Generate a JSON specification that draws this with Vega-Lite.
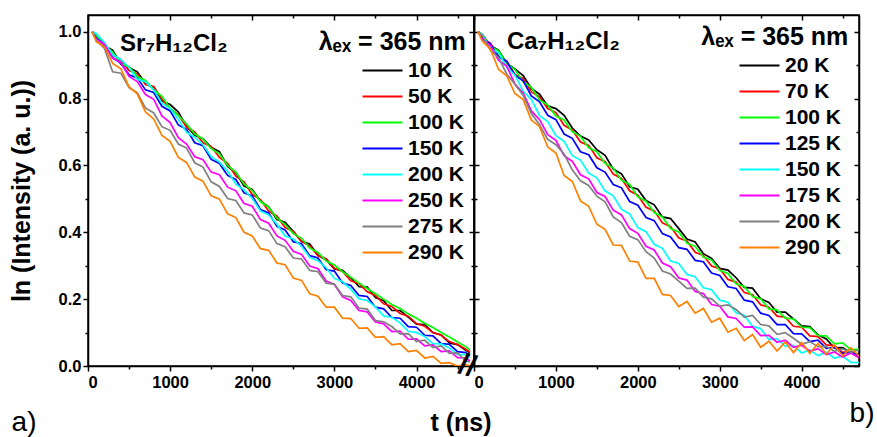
{
"$schema":"https://vega.github.io/schema/vega-lite/v6.json",
"autosize":{"type":"pad"},
"padding":{"left":8,"top":13,"right":4,"bottom":2},
"background":"white",
"bounds":"flush",
"spacing":0,
"config":{
"font":"Liberation Sans",
"view":{"stroke":"black","strokeWidth":1.5},
"axis":{"domainColor":"black","domainWidth":1.5,"tickColor":"black","tickWidth":1.5,"grid":false,"labelFont":"Liberation Sans","labelFontWeight":"bold","labelFontSize":16.5,"labelColor":"black","titleColor":"black","titleFont":"Liberation Sans","titleFontWeight":"bold","titleFontSize":25},
"legend":{"labelFont":"Liberation Sans","labelFontWeight":"bold","labelFontSize":21,"labelColor":"black"}
},
"datasets":{"d":[
{"p":"S","k":"10 K","t":50,"v":1.0},{"p":"S","k":"10 K","t":100,"v":0.993},{"p":"S","k":"10 K","t":200,"v":0.957},{"p":"S","k":"10 K","t":300,"v":0.945},{"p":"S","k":"10 K","t":400,"v":0.903},{"p":"S","k":"10 K","t":500,"v":0.893},{"p":"S","k":"10 K","t":600,"v":0.88},{"p":"S","k":"10 K","t":700,"v":0.845},{"p":"S","k":"10 K","t":800,"v":0.832},{"p":"S","k":"10 K","t":900,"v":0.793},{"p":"S","k":"10 K","t":1000,"v":0.782},{"p":"S","k":"10 K","t":1100,"v":0.76},{"p":"S","k":"10 K","t":1200,"v":0.717},{"p":"S","k":"10 K","t":1300,"v":0.69},{"p":"S","k":"10 K","t":1400,"v":0.68},{"p":"S","k":"10 K","t":1500,"v":0.654},{"p":"S","k":"10 K","t":1600,"v":0.641},{"p":"S","k":"10 K","t":1700,"v":0.597},{"p":"S","k":"10 K","t":1800,"v":0.579},{"p":"S","k":"10 K","t":1900,"v":0.538},{"p":"S","k":"10 K","t":2000,"v":0.528},{"p":"S","k":"10 K","t":2100,"v":0.493},{"p":"S","k":"10 K","t":2200,"v":0.476},{"p":"S","k":"10 K","t":2300,"v":0.438},{"p":"S","k":"10 K","t":2400,"v":0.43},{"p":"S","k":"10 K","t":2500,"v":0.402},{"p":"S","k":"10 K","t":2600,"v":0.373},{"p":"S","k":"10 K","t":2700,"v":0.365},{"p":"S","k":"10 K","t":2800,"v":0.331},{"p":"S","k":"10 K","t":2900,"v":0.318},{"p":"S","k":"10 K","t":3000,"v":0.29},{"p":"S","k":"10 K","t":3100,"v":0.286},{"p":"S","k":"10 K","t":3200,"v":0.264},{"p":"S","k":"10 K","t":3300,"v":0.237},{"p":"S","k":"10 K","t":3400,"v":0.236},{"p":"S","k":"10 K","t":3500,"v":0.205},{"p":"S","k":"10 K","t":3600,"v":0.195},{"p":"S","k":"10 K","t":3700,"v":0.166},{"p":"S","k":"10 K","t":3800,"v":0.166},{"p":"S","k":"10 K","t":3900,"v":0.146},{"p":"S","k":"10 K","t":4000,"v":0.125},{"p":"S","k":"10 K","t":4100,"v":0.124},{"p":"S","k":"10 K","t":4200,"v":0.1},{"p":"S","k":"10 K","t":4300,"v":0.093},{"p":"S","k":"10 K","t":4400,"v":0.069},{"p":"S","k":"10 K","t":4500,"v":0.064},{"p":"S","k":"10 K","t":4600,"v":0.047},{"p":"S","k":"10 K","t":4650,"v":0.04},
{"p":"S","k":"50 K","t":50,"v":1.0},{"p":"S","k":"50 K","t":100,"v":0.982},{"p":"S","k":"50 K","t":200,"v":0.965},{"p":"S","k":"50 K","t":300,"v":0.93},{"p":"S","k":"50 K","t":400,"v":0.915},{"p":"S","k":"50 K","t":500,"v":0.884},{"p":"S","k":"50 K","t":600,"v":0.874},{"p":"S","k":"50 K","t":700,"v":0.842},{"p":"S","k":"50 K","t":800,"v":0.836},{"p":"S","k":"50 K","t":900,"v":0.798},{"p":"S","k":"50 K","t":1000,"v":0.77},{"p":"S","k":"50 K","t":1100,"v":0.752},{"p":"S","k":"50 K","t":1200,"v":0.714},{"p":"S","k":"50 K","t":1300,"v":0.7},{"p":"S","k":"50 K","t":1400,"v":0.668},{"p":"S","k":"50 K","t":1500,"v":0.657},{"p":"S","k":"50 K","t":1600,"v":0.624},{"p":"S","k":"50 K","t":1700,"v":0.606},{"p":"S","k":"50 K","t":1800,"v":0.568},{"p":"S","k":"50 K","t":1900,"v":0.551},{"p":"S","k":"50 K","t":2000,"v":0.513},{"p":"S","k":"50 K","t":2100,"v":0.498},{"p":"S","k":"50 K","t":2200,"v":0.463},{"p":"S","k":"50 K","t":2300,"v":0.449},{"p":"S","k":"50 K","t":2400,"v":0.414},{"p":"S","k":"50 K","t":2500,"v":0.403},{"p":"S","k":"50 K","t":2600,"v":0.372},{"p":"S","k":"50 K","t":2700,"v":0.36},{"p":"S","k":"50 K","t":2800,"v":0.33},{"p":"S","k":"50 K","t":2900,"v":0.321},{"p":"S","k":"50 K","t":3000,"v":0.292},{"p":"S","k":"50 K","t":3100,"v":0.283},{"p":"S","k":"50 K","t":3200,"v":0.255},{"p":"S","k":"50 K","t":3300,"v":0.246},{"p":"S","k":"50 K","t":3400,"v":0.222},{"p":"S","k":"50 K","t":3500,"v":0.211},{"p":"S","k":"50 K","t":3600,"v":0.186},{"p":"S","k":"50 K","t":3700,"v":0.178},{"p":"S","k":"50 K","t":3800,"v":0.157},{"p":"S","k":"50 K","t":3900,"v":0.149},{"p":"S","k":"50 K","t":4000,"v":0.127},{"p":"S","k":"50 K","t":4100,"v":0.119},{"p":"S","k":"50 K","t":4200,"v":0.1},{"p":"S","k":"50 K","t":4300,"v":0.092},{"p":"S","k":"50 K","t":4400,"v":0.073},{"p":"S","k":"50 K","t":4500,"v":0.064},{"p":"S","k":"50 K","t":4600,"v":0.05},{"p":"S","k":"50 K","t":4650,"v":0.042},
{"p":"S","k":"100 K","t":50,"v":1.0},{"p":"S","k":"100 K","t":100,"v":0.99},{"p":"S","k":"100 K","t":200,"v":0.958},{"p":"S","k":"100 K","t":300,"v":0.94},{"p":"S","k":"100 K","t":400,"v":0.905},{"p":"S","k":"100 K","t":500,"v":0.895},{"p":"S","k":"100 K","t":600,"v":0.866},{"p":"S","k":"100 K","t":700,"v":0.854},{"p":"S","k":"100 K","t":800,"v":0.827},{"p":"S","k":"100 K","t":900,"v":0.807},{"p":"S","k":"100 K","t":1000,"v":0.771},{"p":"S","k":"100 K","t":1100,"v":0.75},{"p":"S","k":"100 K","t":1200,"v":0.724},{"p":"S","k":"100 K","t":1300,"v":0.694},{"p":"S","k":"100 K","t":1400,"v":0.679},{"p":"S","k":"100 K","t":1500,"v":0.65},{"p":"S","k":"100 K","t":1600,"v":0.635},{"p":"S","k":"100 K","t":1700,"v":0.6},{"p":"S","k":"100 K","t":1800,"v":0.58},{"p":"S","k":"100 K","t":1900,"v":0.544},{"p":"S","k":"100 K","t":2000,"v":0.525},{"p":"S","k":"100 K","t":2100,"v":0.492},{"p":"S","k":"100 K","t":2200,"v":0.475},{"p":"S","k":"100 K","t":2300,"v":0.442},{"p":"S","k":"100 K","t":2400,"v":0.424},{"p":"S","k":"100 K","t":2500,"v":0.396},{"p":"S","k":"100 K","t":2600,"v":0.382},{"p":"S","k":"100 K","t":2700,"v":0.353},{"p":"S","k":"100 K","t":2800,"v":0.34},{"p":"S","k":"100 K","t":2900,"v":0.314},{"p":"S","k":"100 K","t":3000,"v":0.302},{"p":"S","k":"100 K","t":3100,"v":0.282},{"p":"S","k":"100 K","t":3200,"v":0.266},{"p":"S","k":"100 K","t":3300,"v":0.248},{"p":"S","k":"100 K","t":3400,"v":0.232},{"p":"S","k":"100 K","t":3500,"v":0.216},{"p":"S","k":"100 K","t":3600,"v":0.2},{"p":"S","k":"100 K","t":3700,"v":0.184},{"p":"S","k":"100 K","t":3800,"v":0.172},{"p":"S","k":"100 K","t":3900,"v":0.156},{"p":"S","k":"100 K","t":4000,"v":0.143},{"p":"S","k":"100 K","t":4100,"v":0.128},{"p":"S","k":"100 K","t":4200,"v":0.115},{"p":"S","k":"100 K","t":4300,"v":0.1},{"p":"S","k":"100 K","t":4400,"v":0.087},{"p":"S","k":"100 K","t":4500,"v":0.072},{"p":"S","k":"100 K","t":4600,"v":0.058},{"p":"S","k":"100 K","t":4650,"v":0.048},
{"p":"S","k":"150 K","t":50,"v":1.0},{"p":"S","k":"150 K","t":100,"v":0.981},{"p":"S","k":"150 K","t":200,"v":0.962},{"p":"S","k":"150 K","t":300,"v":0.922},{"p":"S","k":"150 K","t":400,"v":0.906},{"p":"S","k":"150 K","t":500,"v":0.871},{"p":"S","k":"150 K","t":600,"v":0.862},{"p":"S","k":"150 K","t":700,"v":0.826},{"p":"S","k":"150 K","t":800,"v":0.818},{"p":"S","k":"150 K","t":900,"v":0.777},{"p":"S","k":"150 K","t":1000,"v":0.763},{"p":"S","k":"150 K","t":1100,"v":0.721},{"p":"S","k":"150 K","t":1200,"v":0.708},{"p":"S","k":"150 K","t":1300,"v":0.668},{"p":"S","k":"150 K","t":1400,"v":0.659},{"p":"S","k":"150 K","t":1500,"v":0.618},{"p":"S","k":"150 K","t":1600,"v":0.606},{"p":"S","k":"150 K","t":1700,"v":0.57},{"p":"S","k":"150 K","t":1800,"v":0.558},{"p":"S","k":"150 K","t":1900,"v":0.518},{"p":"S","k":"150 K","t":2000,"v":0.509},{"p":"S","k":"150 K","t":2100,"v":0.468},{"p":"S","k":"150 K","t":2200,"v":0.458},{"p":"S","k":"150 K","t":2300,"v":0.418},{"p":"S","k":"150 K","t":2400,"v":0.407},{"p":"S","k":"150 K","t":2500,"v":0.372},{"p":"S","k":"150 K","t":2600,"v":0.366},{"p":"S","k":"150 K","t":2700,"v":0.33},{"p":"S","k":"150 K","t":2800,"v":0.323},{"p":"S","k":"150 K","t":2900,"v":0.288},{"p":"S","k":"150 K","t":3000,"v":0.284},{"p":"S","k":"150 K","t":3100,"v":0.248},{"p":"S","k":"150 K","t":3200,"v":0.241},{"p":"S","k":"150 K","t":3300,"v":0.211},{"p":"S","k":"150 K","t":3400,"v":0.208},{"p":"S","k":"150 K","t":3500,"v":0.176},{"p":"S","k":"150 K","t":3600,"v":0.171},{"p":"S","k":"150 K","t":3700,"v":0.145},{"p":"S","k":"150 K","t":3800,"v":0.143},{"p":"S","k":"150 K","t":3900,"v":0.118},{"p":"S","k":"150 K","t":4000,"v":0.116},{"p":"S","k":"150 K","t":4100,"v":0.092},{"p":"S","k":"150 K","t":4200,"v":0.09},{"p":"S","k":"150 K","t":4300,"v":0.067},{"p":"S","k":"150 K","t":4400,"v":0.065},{"p":"S","k":"150 K","t":4500,"v":0.043},{"p":"S","k":"150 K","t":4600,"v":0.04},{"p":"S","k":"150 K","t":4650,"v":0.03},
{"p":"S","k":"200 K","t":50,"v":1.0},{"p":"S","k":"200 K","t":100,"v":0.995},{"p":"S","k":"200 K","t":200,"v":0.968},{"p":"S","k":"200 K","t":300,"v":0.931},{"p":"S","k":"200 K","t":400,"v":0.917},{"p":"S","k":"200 K","t":500,"v":0.893},{"p":"S","k":"200 K","t":600,"v":0.858},{"p":"S","k":"200 K","t":700,"v":0.85},{"p":"S","k":"200 K","t":800,"v":0.826},{"p":"S","k":"200 K","t":900,"v":0.786},{"p":"S","k":"200 K","t":1000,"v":0.77},{"p":"S","k":"200 K","t":1100,"v":0.738},{"p":"S","k":"200 K","t":1200,"v":0.699},{"p":"S","k":"200 K","t":1300,"v":0.684},{"p":"S","k":"200 K","t":1400,"v":0.662},{"p":"S","k":"200 K","t":1500,"v":0.626},{"p":"S","k":"200 K","t":1600,"v":0.61},{"p":"S","k":"200 K","t":1700,"v":0.583},{"p":"S","k":"200 K","t":1800,"v":0.544},{"p":"S","k":"200 K","t":1900,"v":0.527},{"p":"S","k":"200 K","t":2000,"v":0.501},{"p":"S","k":"200 K","t":2100,"v":0.464},{"p":"S","k":"200 K","t":2200,"v":0.452},{"p":"S","k":"200 K","t":2300,"v":0.424},{"p":"S","k":"200 K","t":2400,"v":0.389},{"p":"S","k":"200 K","t":2500,"v":0.38},{"p":"S","k":"200 K","t":2600,"v":0.358},{"p":"S","k":"200 K","t":2700,"v":0.325},{"p":"S","k":"200 K","t":2800,"v":0.315},{"p":"S","k":"200 K","t":2900,"v":0.294},{"p":"S","k":"200 K","t":3000,"v":0.262},{"p":"S","k":"200 K","t":3100,"v":0.252},{"p":"S","k":"200 K","t":3200,"v":0.23},{"p":"S","k":"200 K","t":3300,"v":0.201},{"p":"S","k":"200 K","t":3400,"v":0.196},{"p":"S","k":"200 K","t":3500,"v":0.177},{"p":"S","k":"200 K","t":3600,"v":0.15},{"p":"S","k":"200 K","t":3700,"v":0.146},{"p":"S","k":"200 K","t":3800,"v":0.129},{"p":"S","k":"200 K","t":3900,"v":0.104},{"p":"S","k":"200 K","t":4000,"v":0.1},{"p":"S","k":"200 K","t":4100,"v":0.088},{"p":"S","k":"200 K","t":4200,"v":0.067},{"p":"S","k":"200 K","t":4300,"v":0.066},{"p":"S","k":"200 K","t":4400,"v":0.054},{"p":"S","k":"200 K","t":4500,"v":0.035},{"p":"S","k":"200 K","t":4600,"v":0.034},{"p":"S","k":"200 K","t":4650,"v":0.025},
{"p":"S","k":"250 K","t":50,"v":1.0},{"p":"S","k":"250 K","t":100,"v":0.978},{"p":"S","k":"250 K","t":200,"v":0.962},{"p":"S","k":"250 K","t":300,"v":0.921},{"p":"S","k":"250 K","t":400,"v":0.908},{"p":"S","k":"250 K","t":500,"v":0.866},{"p":"S","k":"250 K","t":600,"v":0.851},{"p":"S","k":"250 K","t":700,"v":0.812},{"p":"S","k":"250 K","t":800,"v":0.798},{"p":"S","k":"250 K","t":900,"v":0.748},{"p":"S","k":"250 K","t":1000,"v":0.728},{"p":"S","k":"250 K","t":1100,"v":0.683},{"p":"S","k":"250 K","t":1200,"v":0.664},{"p":"S","k":"250 K","t":1300,"v":0.626},{"p":"S","k":"250 K","t":1400,"v":0.617},{"p":"S","k":"250 K","t":1500,"v":0.58},{"p":"S","k":"250 K","t":1600,"v":0.572},{"p":"S","k":"250 K","t":1700,"v":0.535},{"p":"S","k":"250 K","t":1800,"v":0.524},{"p":"S","k":"250 K","t":1900,"v":0.486},{"p":"S","k":"250 K","t":2000,"v":0.478},{"p":"S","k":"250 K","t":2100,"v":0.438},{"p":"S","k":"250 K","t":2200,"v":0.427},{"p":"S","k":"250 K","t":2300,"v":0.389},{"p":"S","k":"250 K","t":2400,"v":0.376},{"p":"S","k":"250 K","t":2500,"v":0.343},{"p":"S","k":"250 K","t":2600,"v":0.334},{"p":"S","k":"250 K","t":2700,"v":0.299},{"p":"S","k":"250 K","t":2800,"v":0.291},{"p":"S","k":"250 K","t":2900,"v":0.254},{"p":"S","k":"250 K","t":3000,"v":0.244},{"p":"S","k":"250 K","t":3100,"v":0.207},{"p":"S","k":"250 K","t":3200,"v":0.196},{"p":"S","k":"250 K","t":3300,"v":0.166},{"p":"S","k":"250 K","t":3400,"v":0.162},{"p":"S","k":"250 K","t":3500,"v":0.132},{"p":"S","k":"250 K","t":3600,"v":0.126},{"p":"S","k":"250 K","t":3700,"v":0.103},{"p":"S","k":"250 K","t":3800,"v":0.104},{"p":"S","k":"250 K","t":3900,"v":0.08},{"p":"S","k":"250 K","t":4000,"v":0.081},{"p":"S","k":"250 K","t":4100,"v":0.06},{"p":"S","k":"250 K","t":4200,"v":0.063},{"p":"S","k":"250 K","t":4300,"v":0.043},{"p":"S","k":"250 K","t":4400,"v":0.045},{"p":"S","k":"250 K","t":4500,"v":0.025},{"p":"S","k":"250 K","t":4600,"v":0.024},{"p":"S","k":"250 K","t":4650,"v":0.015},
{"p":"S","k":"275 K","t":50,"v":1.0},{"p":"S","k":"275 K","t":100,"v":0.975},{"p":"S","k":"275 K","t":200,"v":0.95},{"p":"S","k":"275 K","t":300,"v":0.88},{"p":"S","k":"275 K","t":400,"v":0.876},{"p":"S","k":"275 K","t":500,"v":0.833},{"p":"S","k":"275 K","t":600,"v":0.817},{"p":"S","k":"275 K","t":700,"v":0.772},{"p":"S","k":"275 K","t":800,"v":0.757},{"p":"S","k":"275 K","t":900,"v":0.716},{"p":"S","k":"275 K","t":1000,"v":0.705},{"p":"S","k":"275 K","t":1100,"v":0.664},{"p":"S","k":"275 K","t":1200,"v":0.652},{"p":"S","k":"275 K","t":1300,"v":0.608},{"p":"S","k":"275 K","t":1400,"v":0.595},{"p":"S","k":"275 K","t":1500,"v":0.551},{"p":"S","k":"275 K","t":1600,"v":0.537},{"p":"S","k":"275 K","t":1700,"v":0.501},{"p":"S","k":"275 K","t":1800,"v":0.495},{"p":"S","k":"275 K","t":1900,"v":0.458},{"p":"S","k":"275 K","t":2000,"v":0.452},{"p":"S","k":"275 K","t":2100,"v":0.413},{"p":"S","k":"275 K","t":2200,"v":0.405},{"p":"S","k":"275 K","t":2300,"v":0.366},{"p":"S","k":"275 K","t":2400,"v":0.357},{"p":"S","k":"275 K","t":2500,"v":0.323},{"p":"S","k":"275 K","t":2600,"v":0.32},{"p":"S","k":"275 K","t":2700,"v":0.286},{"p":"S","k":"275 K","t":2800,"v":0.282},{"p":"S","k":"275 K","t":2900,"v":0.248},{"p":"S","k":"275 K","t":3000,"v":0.245},{"p":"S","k":"275 K","t":3100,"v":0.211},{"p":"S","k":"275 K","t":3200,"v":0.207},{"p":"S","k":"275 K","t":3300,"v":0.173},{"p":"S","k":"275 K","t":3400,"v":0.17},{"p":"S","k":"275 K","t":3500,"v":0.136},{"p":"S","k":"275 K","t":3600,"v":0.132},{"p":"S","k":"275 K","t":3700,"v":0.118},{"p":"S","k":"275 K","t":3800,"v":0.096},{"p":"S","k":"275 K","t":3900,"v":0.097},{"p":"S","k":"275 K","t":4000,"v":0.073},{"p":"S","k":"275 K","t":4100,"v":0.077},{"p":"S","k":"275 K","t":4200,"v":0.055},{"p":"S","k":"275 K","t":4300,"v":0.06},{"p":"S","k":"275 K","t":4400,"v":0.038},{"p":"S","k":"275 K","t":4500,"v":0.039},{"p":"S","k":"275 K","t":4600,"v":0.015},{"p":"S","k":"275 K","t":4650,"v":0.012},
{"p":"S","k":"290 K","t":50,"v":1.0},{"p":"S","k":"290 K","t":100,"v":0.97},{"p":"S","k":"290 K","t":200,"v":0.955},{"p":"S","k":"290 K","t":300,"v":0.905},{"p":"S","k":"290 K","t":400,"v":0.889},{"p":"S","k":"290 K","t":500,"v":0.835},{"p":"S","k":"290 K","t":600,"v":0.814},{"p":"S","k":"290 K","t":700,"v":0.76},{"p":"S","k":"290 K","t":800,"v":0.739},{"p":"S","k":"290 K","t":900,"v":0.69},{"p":"S","k":"290 K","t":1000,"v":0.672},{"p":"S","k":"290 K","t":1100,"v":0.624},{"p":"S","k":"290 K","t":1200,"v":0.609},{"p":"S","k":"290 K","t":1300,"v":0.565},{"p":"S","k":"290 K","t":1400,"v":0.553},{"p":"S","k":"290 K","t":1500,"v":0.509},{"p":"S","k":"290 K","t":1600,"v":0.499},{"p":"S","k":"290 K","t":1700,"v":0.455},{"p":"S","k":"290 K","t":1800,"v":0.444},{"p":"S","k":"290 K","t":1900,"v":0.4},{"p":"S","k":"290 K","t":2000,"v":0.389},{"p":"S","k":"290 K","t":2100,"v":0.351},{"p":"S","k":"290 K","t":2200,"v":0.346},{"p":"S","k":"290 K","t":2300,"v":0.308},{"p":"S","k":"290 K","t":2400,"v":0.303},{"p":"S","k":"290 K","t":2500,"v":0.263},{"p":"S","k":"290 K","t":2600,"v":0.256},{"p":"S","k":"290 K","t":2700,"v":0.216},{"p":"S","k":"290 K","t":2800,"v":0.209},{"p":"S","k":"290 K","t":2900,"v":0.176},{"p":"S","k":"290 K","t":3000,"v":0.176},{"p":"S","k":"290 K","t":3100,"v":0.143},{"p":"S","k":"290 K","t":3200,"v":0.142},{"p":"S","k":"290 K","t":3300,"v":0.113},{"p":"S","k":"290 K","t":3400,"v":0.114},{"p":"S","k":"290 K","t":3500,"v":0.086},{"p":"S","k":"290 K","t":3600,"v":0.088},{"p":"S","k":"290 K","t":3700,"v":0.063},{"p":"S","k":"290 K","t":3800,"v":0.067},{"p":"S","k":"290 K","t":3900,"v":0.043},{"p":"S","k":"290 K","t":4000,"v":0.047},{"p":"S","k":"290 K","t":4100,"v":0.024},{"p":"S","k":"290 K","t":4200,"v":0.029},{"p":"S","k":"290 K","t":4300,"v":0.008},{"p":"S","k":"290 K","t":4400,"v":0.01},{"p":"S","k":"290 K","t":4500,"v":0.0},{"p":"S","k":"290 K","t":4600,"v":0.004},{"p":"S","k":"290 K","t":4650,"v":0.0},
{"p":"C","k":"20 K","t":50,"v":1.0},{"p":"C","k":"20 K","t":100,"v":0.992},{"p":"C","k":"20 K","t":200,"v":0.958},{"p":"C","k":"20 K","t":300,"v":0.945},{"p":"C","k":"20 K","t":400,"v":0.905},{"p":"C","k":"20 K","t":500,"v":0.889},{"p":"C","k":"20 K","t":600,"v":0.869},{"p":"C","k":"20 K","t":700,"v":0.83},{"p":"C","k":"20 K","t":800,"v":0.813},{"p":"C","k":"20 K","t":900,"v":0.778},{"p":"C","k":"20 K","t":1000,"v":0.77},{"p":"C","k":"20 K","t":1100,"v":0.75},{"p":"C","k":"20 K","t":1200,"v":0.712},{"p":"C","k":"20 K","t":1300,"v":0.688},{"p":"C","k":"20 K","t":1400,"v":0.676},{"p":"C","k":"20 K","t":1500,"v":0.647},{"p":"C","k":"20 K","t":1600,"v":0.63},{"p":"C","k":"20 K","t":1700,"v":0.589},{"p":"C","k":"20 K","t":1800,"v":0.575},{"p":"C","k":"20 K","t":1900,"v":0.536},{"p":"C","k":"20 K","t":2000,"v":0.529},{"p":"C","k":"20 K","t":2100,"v":0.495},{"p":"C","k":"20 K","t":2200,"v":0.482},{"p":"C","k":"20 K","t":2300,"v":0.446},{"p":"C","k":"20 K","t":2400,"v":0.441},{"p":"C","k":"20 K","t":2500,"v":0.411},{"p":"C","k":"20 K","t":2600,"v":0.38},{"p":"C","k":"20 K","t":2700,"v":0.371},{"p":"C","k":"20 K","t":2800,"v":0.336},{"p":"C","k":"20 K","t":2900,"v":0.322},{"p":"C","k":"20 K","t":3000,"v":0.292},{"p":"C","k":"20 K","t":3100,"v":0.287},{"p":"C","k":"20 K","t":3200,"v":0.264},{"p":"C","k":"20 K","t":3300,"v":0.235},{"p":"C","k":"20 K","t":3400,"v":0.233},{"p":"C","k":"20 K","t":3500,"v":0.201},{"p":"C","k":"20 K","t":3600,"v":0.19},{"p":"C","k":"20 K","t":3700,"v":0.161},{"p":"C","k":"20 K","t":3800,"v":0.161},{"p":"C","k":"20 K","t":3900,"v":0.141},{"p":"C","k":"20 K","t":4000,"v":0.12},{"p":"C","k":"20 K","t":4100,"v":0.118},{"p":"C","k":"20 K","t":4200,"v":0.093},{"p":"C","k":"20 K","t":4300,"v":0.081},{"p":"C","k":"20 K","t":4400,"v":0.054},{"p":"C","k":"20 K","t":4500,"v":0.055},{"p":"C","k":"20 K","t":4600,"v":0.04},{"p":"C","k":"20 K","t":4700,"v":0.035},
{"p":"C","k":"70 K","t":50,"v":1.0},{"p":"C","k":"70 K","t":100,"v":0.98},{"p":"C","k":"70 K","t":200,"v":0.966},{"p":"C","k":"70 K","t":300,"v":0.927},{"p":"C","k":"70 K","t":400,"v":0.912},{"p":"C","k":"70 K","t":500,"v":0.872},{"p":"C","k":"70 K","t":600,"v":0.86},{"p":"C","k":"70 K","t":700,"v":0.82},{"p":"C","k":"70 K","t":800,"v":0.805},{"p":"C","k":"70 K","t":900,"v":0.77},{"p":"C","k":"70 K","t":1000,"v":0.758},{"p":"C","k":"70 K","t":1100,"v":0.72},{"p":"C","k":"70 K","t":1200,"v":0.706},{"p":"C","k":"70 K","t":1300,"v":0.67},{"p":"C","k":"70 K","t":1400,"v":0.66},{"p":"C","k":"70 K","t":1500,"v":0.623},{"p":"C","k":"70 K","t":1600,"v":0.611},{"p":"C","k":"70 K","t":1700,"v":0.574},{"p":"C","k":"70 K","t":1800,"v":0.561},{"p":"C","k":"70 K","t":1900,"v":0.524},{"p":"C","k":"70 K","t":2000,"v":0.511},{"p":"C","k":"70 K","t":2100,"v":0.475},{"p":"C","k":"70 K","t":2200,"v":0.464},{"p":"C","k":"70 K","t":2300,"v":0.428},{"p":"C","k":"70 K","t":2400,"v":0.417},{"p":"C","k":"70 K","t":2500,"v":0.383},{"p":"C","k":"70 K","t":2600,"v":0.374},{"p":"C","k":"70 K","t":2700,"v":0.34},{"p":"C","k":"70 K","t":2800,"v":0.331},{"p":"C","k":"70 K","t":2900,"v":0.299},{"p":"C","k":"70 K","t":3000,"v":0.291},{"p":"C","k":"70 K","t":3100,"v":0.259},{"p":"C","k":"70 K","t":3200,"v":0.251},{"p":"C","k":"70 K","t":3300,"v":0.22},{"p":"C","k":"70 K","t":3400,"v":0.213},{"p":"C","k":"70 K","t":3500,"v":0.183},{"p":"C","k":"70 K","t":3600,"v":0.176},{"p":"C","k":"70 K","t":3700,"v":0.149},{"p":"C","k":"70 K","t":3800,"v":0.146},{"p":"C","k":"70 K","t":3900,"v":0.119},{"p":"C","k":"70 K","t":4000,"v":0.116},{"p":"C","k":"70 K","t":4100,"v":0.09},{"p":"C","k":"70 K","t":4200,"v":0.088},{"p":"C","k":"70 K","t":4300,"v":0.063},{"p":"C","k":"70 K","t":4400,"v":0.061},{"p":"C","k":"70 K","t":4500,"v":0.041},{"p":"C","k":"70 K","t":4600,"v":0.044},{"p":"C","k":"70 K","t":4700,"v":0.025},
{"p":"C","k":"100 K","t":50,"v":1.0},{"p":"C","k":"100 K","t":100,"v":0.991},{"p":"C","k":"100 K","t":200,"v":0.956},{"p":"C","k":"100 K","t":300,"v":0.943},{"p":"C","k":"100 K","t":400,"v":0.905},{"p":"C","k":"100 K","t":500,"v":0.887},{"p":"C","k":"100 K","t":600,"v":0.85},{"p":"C","k":"100 K","t":700,"v":0.834},{"p":"C","k":"100 K","t":800,"v":0.796},{"p":"C","k":"100 K","t":900,"v":0.781},{"p":"C","k":"100 K","t":1000,"v":0.748},{"p":"C","k":"100 K","t":1100,"v":0.736},{"p":"C","k":"100 K","t":1200,"v":0.701},{"p":"C","k":"100 K","t":1300,"v":0.687},{"p":"C","k":"100 K","t":1400,"v":0.653},{"p":"C","k":"100 K","t":1500,"v":0.641},{"p":"C","k":"100 K","t":1600,"v":0.606},{"p":"C","k":"100 K","t":1700,"v":0.592},{"p":"C","k":"100 K","t":1800,"v":0.556},{"p":"C","k":"100 K","t":1900,"v":0.543},{"p":"C","k":"100 K","t":2000,"v":0.506},{"p":"C","k":"100 K","t":2100,"v":0.493},{"p":"C","k":"100 K","t":2200,"v":0.459},{"p":"C","k":"100 K","t":2300,"v":0.446},{"p":"C","k":"100 K","t":2400,"v":0.411},{"p":"C","k":"100 K","t":2500,"v":0.401},{"p":"C","k":"100 K","t":2600,"v":0.368},{"p":"C","k":"100 K","t":2700,"v":0.358},{"p":"C","k":"100 K","t":2800,"v":0.326},{"p":"C","k":"100 K","t":2900,"v":0.317},{"p":"C","k":"100 K","t":3000,"v":0.286},{"p":"C","k":"100 K","t":3100,"v":0.277},{"p":"C","k":"100 K","t":3200,"v":0.246},{"p":"C","k":"100 K","t":3300,"v":0.238},{"p":"C","k":"100 K","t":3400,"v":0.208},{"p":"C","k":"100 K","t":3500,"v":0.201},{"p":"C","k":"100 K","t":3600,"v":0.171},{"p":"C","k":"100 K","t":3700,"v":0.168},{"p":"C","k":"100 K","t":3800,"v":0.143},{"p":"C","k":"100 K","t":3900,"v":0.141},{"p":"C","k":"100 K","t":4000,"v":0.116},{"p":"C","k":"100 K","t":4100,"v":0.115},{"p":"C","k":"100 K","t":4200,"v":0.091},{"p":"C","k":"100 K","t":4300,"v":0.09},{"p":"C","k":"100 K","t":4400,"v":0.066},{"p":"C","k":"100 K","t":4500,"v":0.069},{"p":"C","k":"100 K","t":4600,"v":0.049},{"p":"C","k":"100 K","t":4700,"v":0.05},
{"p":"C","k":"125 K","t":50,"v":1.0},{"p":"C","k":"125 K","t":100,"v":0.981},{"p":"C","k":"125 K","t":200,"v":0.963},{"p":"C","k":"125 K","t":300,"v":0.925},{"p":"C","k":"125 K","t":400,"v":0.911},{"p":"C","k":"125 K","t":500,"v":0.869},{"p":"C","k":"125 K","t":600,"v":0.853},{"p":"C","k":"125 K","t":700,"v":0.808},{"p":"C","k":"125 K","t":800,"v":0.79},{"p":"C","k":"125 K","t":900,"v":0.75},{"p":"C","k":"125 K","t":1000,"v":0.737},{"p":"C","k":"125 K","t":1100,"v":0.694},{"p":"C","k":"125 K","t":1200,"v":0.681},{"p":"C","k":"125 K","t":1300,"v":0.641},{"p":"C","k":"125 K","t":1400,"v":0.632},{"p":"C","k":"125 K","t":1500,"v":0.593},{"p":"C","k":"125 K","t":1600,"v":0.58},{"p":"C","k":"125 K","t":1700,"v":0.543},{"p":"C","k":"125 K","t":1800,"v":0.533},{"p":"C","k":"125 K","t":1900,"v":0.492},{"p":"C","k":"125 K","t":2000,"v":0.481},{"p":"C","k":"125 K","t":2100,"v":0.444},{"p":"C","k":"125 K","t":2200,"v":0.435},{"p":"C","k":"125 K","t":2300,"v":0.396},{"p":"C","k":"125 K","t":2400,"v":0.386},{"p":"C","k":"125 K","t":2500,"v":0.354},{"p":"C","k":"125 K","t":2600,"v":0.349},{"p":"C","k":"125 K","t":2700,"v":0.316},{"p":"C","k":"125 K","t":2800,"v":0.312},{"p":"C","k":"125 K","t":2900,"v":0.278},{"p":"C","k":"125 K","t":3000,"v":0.271},{"p":"C","k":"125 K","t":3100,"v":0.237},{"p":"C","k":"125 K","t":3200,"v":0.232},{"p":"C","k":"125 K","t":3300,"v":0.197},{"p":"C","k":"125 K","t":3400,"v":0.192},{"p":"C","k":"125 K","t":3500,"v":0.158},{"p":"C","k":"125 K","t":3600,"v":0.151},{"p":"C","k":"125 K","t":3700,"v":0.124},{"p":"C","k":"125 K","t":3800,"v":0.124},{"p":"C","k":"125 K","t":3900,"v":0.097},{"p":"C","k":"125 K","t":4000,"v":0.096},{"p":"C","k":"125 K","t":4100,"v":0.073},{"p":"C","k":"125 K","t":4200,"v":0.077},{"p":"C","k":"125 K","t":4300,"v":0.053},{"p":"C","k":"125 K","t":4400,"v":0.056},{"p":"C","k":"125 K","t":4500,"v":0.037},{"p":"C","k":"125 K","t":4600,"v":0.042},{"p":"C","k":"125 K","t":4700,"v":0.03},
{"p":"C","k":"150 K","t":50,"v":1.0},{"p":"C","k":"150 K","t":100,"v":0.992},{"p":"C","k":"150 K","t":200,"v":0.951},{"p":"C","k":"150 K","t":300,"v":0.936},{"p":"C","k":"150 K","t":400,"v":0.894},{"p":"C","k":"150 K","t":500,"v":0.87},{"p":"C","k":"150 K","t":600,"v":0.822},{"p":"C","k":"150 K","t":700,"v":0.798},{"p":"C","k":"150 K","t":800,"v":0.749},{"p":"C","k":"150 K","t":900,"v":0.731},{"p":"C","k":"150 K","t":1000,"v":0.689},{"p":"C","k":"150 K","t":1100,"v":0.672},{"p":"C","k":"150 K","t":1200,"v":0.629},{"p":"C","k":"150 K","t":1300,"v":0.616},{"p":"C","k":"150 K","t":1400,"v":0.577},{"p":"C","k":"150 K","t":1500,"v":0.563},{"p":"C","k":"150 K","t":1600,"v":0.524},{"p":"C","k":"150 K","t":1700,"v":0.509},{"p":"C","k":"150 K","t":1800,"v":0.469},{"p":"C","k":"150 K","t":1900,"v":0.455},{"p":"C","k":"150 K","t":2000,"v":0.414},{"p":"C","k":"150 K","t":2100,"v":0.402},{"p":"C","k":"150 K","t":2200,"v":0.364},{"p":"C","k":"150 K","t":2300,"v":0.352},{"p":"C","k":"150 K","t":2400,"v":0.314},{"p":"C","k":"150 K","t":2500,"v":0.307},{"p":"C","k":"150 K","t":2600,"v":0.274},{"p":"C","k":"150 K","t":2700,"v":0.267},{"p":"C","k":"150 K","t":2800,"v":0.234},{"p":"C","k":"150 K","t":2900,"v":0.228},{"p":"C","k":"150 K","t":3000,"v":0.197},{"p":"C","k":"150 K","t":3100,"v":0.191},{"p":"C","k":"150 K","t":3200,"v":0.159},{"p":"C","k":"150 K","t":3300,"v":0.152},{"p":"C","k":"150 K","t":3400,"v":0.119},{"p":"C","k":"150 K","t":3500,"v":0.112},{"p":"C","k":"150 K","t":3600,"v":0.079},{"p":"C","k":"150 K","t":3700,"v":0.082},{"p":"C","k":"150 K","t":3800,"v":0.059},{"p":"C","k":"150 K","t":3900,"v":0.062},{"p":"C","k":"150 K","t":4000,"v":0.039},{"p":"C","k":"150 K","t":4100,"v":0.048},{"p":"C","k":"150 K","t":4200,"v":0.031},{"p":"C","k":"150 K","t":4300,"v":0.041},{"p":"C","k":"150 K","t":4400,"v":0.024},{"p":"C","k":"150 K","t":4500,"v":0.03},{"p":"C","k":"150 K","t":4600,"v":0.011},{"p":"C","k":"150 K","t":4700,"v":0.01},
{"p":"C","k":"175 K","t":50,"v":1.0},{"p":"C","k":"175 K","t":100,"v":0.978},{"p":"C","k":"175 K","t":200,"v":0.959},{"p":"C","k":"175 K","t":300,"v":0.914},{"p":"C","k":"175 K","t":400,"v":0.897},{"p":"C","k":"175 K","t":500,"v":0.843},{"p":"C","k":"175 K","t":600,"v":0.817},{"p":"C","k":"175 K","t":700,"v":0.763},{"p":"C","k":"175 K","t":800,"v":0.737},{"p":"C","k":"175 K","t":900,"v":0.692},{"p":"C","k":"175 K","t":1000,"v":0.675},{"p":"C","k":"175 K","t":1100,"v":0.629},{"p":"C","k":"175 K","t":1200,"v":0.612},{"p":"C","k":"175 K","t":1300,"v":0.572},{"p":"C","k":"175 K","t":1400,"v":0.56},{"p":"C","k":"175 K","t":1500,"v":0.519},{"p":"C","k":"175 K","t":1600,"v":0.507},{"p":"C","k":"175 K","t":1700,"v":0.466},{"p":"C","k":"175 K","t":1800,"v":0.452},{"p":"C","k":"175 K","t":1900,"v":0.411},{"p":"C","k":"175 K","t":2000,"v":0.397},{"p":"C","k":"175 K","t":2100,"v":0.358},{"p":"C","k":"175 K","t":2200,"v":0.347},{"p":"C","k":"175 K","t":2300,"v":0.308},{"p":"C","k":"175 K","t":2400,"v":0.297},{"p":"C","k":"175 K","t":2500,"v":0.263},{"p":"C","k":"175 K","t":2600,"v":0.257},{"p":"C","k":"175 K","t":2700,"v":0.223},{"p":"C","k":"175 K","t":2800,"v":0.217},{"p":"C","k":"175 K","t":2900,"v":0.184},{"p":"C","k":"175 K","t":3000,"v":0.179},{"p":"C","k":"175 K","t":3100,"v":0.147},{"p":"C","k":"175 K","t":3200,"v":0.142},{"p":"C","k":"175 K","t":3300,"v":0.116},{"p":"C","k":"175 K","t":3400,"v":0.117},{"p":"C","k":"175 K","t":3500,"v":0.091},{"p":"C","k":"175 K","t":3600,"v":0.092},{"p":"C","k":"175 K","t":3700,"v":0.071},{"p":"C","k":"175 K","t":3800,"v":0.077},{"p":"C","k":"175 K","t":3900,"v":0.056},{"p":"C","k":"175 K","t":4000,"v":0.062},{"p":"C","k":"175 K","t":4100,"v":0.044},{"p":"C","k":"175 K","t":4200,"v":0.052},{"p":"C","k":"175 K","t":4300,"v":0.034},{"p":"C","k":"175 K","t":4400,"v":0.042},{"p":"C","k":"175 K","t":4500,"v":0.027},{"p":"C","k":"175 K","t":4600,"v":0.039},{"p":"C","k":"175 K","t":4700,"v":0.025},
{"p":"C","k":"200 K","t":50,"v":1.0},{"p":"C","k":"200 K","t":100,"v":0.989},{"p":"C","k":"200 K","t":200,"v":0.945},{"p":"C","k":"200 K","t":300,"v":0.923},{"p":"C","k":"200 K","t":400,"v":0.873},{"p":"C","k":"200 K","t":500,"v":0.843},{"p":"C","k":"200 K","t":600,"v":0.81},{"p":"C","k":"200 K","t":700,"v":0.755},{"p":"C","k":"200 K","t":800,"v":0.722},{"p":"C","k":"200 K","t":900,"v":0.678},{"p":"C","k":"200 K","t":1000,"v":0.662},{"p":"C","k":"200 K","t":1100,"v":0.634},{"p":"C","k":"200 K","t":1200,"v":0.587},{"p":"C","k":"200 K","t":1300,"v":0.554},{"p":"C","k":"200 K","t":1400,"v":0.54},{"p":"C","k":"200 K","t":1500,"v":0.508},{"p":"C","k":"200 K","t":1600,"v":0.491},{"p":"C","k":"200 K","t":1700,"v":0.446},{"p":"C","k":"200 K","t":1800,"v":0.429},{"p":"C","k":"200 K","t":1900,"v":0.388},{"p":"C","k":"200 K","t":2000,"v":0.378},{"p":"C","k":"200 K","t":2100,"v":0.342},{"p":"C","k":"200 K","t":2200,"v":0.323},{"p":"C","k":"200 K","t":2300,"v":0.284},{"p":"C","k":"200 K","t":2400,"v":0.275},{"p":"C","k":"200 K","t":2500,"v":0.254},{"p":"C","k":"200 K","t":2600,"v":0.232},{"p":"C","k":"200 K","t":2700,"v":0.233},{"p":"C","k":"200 K","t":2800,"v":0.206},{"p":"C","k":"200 K","t":2900,"v":0.201},{"p":"C","k":"200 K","t":3000,"v":0.179},{"p":"C","k":"200 K","t":3100,"v":0.183},{"p":"C","k":"200 K","t":3200,"v":0.169},{"p":"C","k":"200 K","t":3300,"v":0.146},{"p":"C","k":"200 K","t":3400,"v":0.151},{"p":"C","k":"200 K","t":3500,"v":0.124},{"p":"C","k":"200 K","t":3600,"v":0.12},{"p":"C","k":"200 K","t":3700,"v":0.095},{"p":"C","k":"200 K","t":3800,"v":0.1},{"p":"C","k":"200 K","t":3900,"v":0.083},{"p":"C","k":"200 K","t":4000,"v":0.065},{"p":"C","k":"200 K","t":4100,"v":0.073},{"p":"C","k":"200 K","t":4200,"v":0.058},{"p":"C","k":"200 K","t":4300,"v":0.059},{"p":"C","k":"200 K","t":4400,"v":0.044},{"p":"C","k":"200 K","t":4500,"v":0.051},{"p":"C","k":"200 K","t":4600,"v":0.041},{"p":"C","k":"200 K","t":4700,"v":0.048},
{"p":"C","k":"290 K","t":50,"v":1.0},{"p":"C","k":"290 K","t":100,"v":0.972},{"p":"C","k":"290 K","t":200,"v":0.948},{"p":"C","k":"290 K","t":300,"v":0.887},{"p":"C","k":"290 K","t":400,"v":0.868},{"p":"C","k":"290 K","t":500,"v":0.815},{"p":"C","k":"290 K","t":600,"v":0.797},{"p":"C","k":"290 K","t":700,"v":0.736},{"p":"C","k":"290 K","t":800,"v":0.716},{"p":"C","k":"290 K","t":900,"v":0.655},{"p":"C","k":"290 K","t":1000,"v":0.637},{"p":"C","k":"290 K","t":1100,"v":0.57},{"p":"C","k":"290 K","t":1200,"v":0.552},{"p":"C","k":"290 K","t":1300,"v":0.494},{"p":"C","k":"290 K","t":1400,"v":0.478},{"p":"C","k":"290 K","t":1500,"v":0.424},{"p":"C","k":"290 K","t":1600,"v":0.409},{"p":"C","k":"290 K","t":1700,"v":0.362},{"p":"C","k":"290 K","t":1800,"v":0.361},{"p":"C","k":"290 K","t":1900,"v":0.314},{"p":"C","k":"290 K","t":2000,"v":0.311},{"p":"C","k":"290 K","t":2100,"v":0.262},{"p":"C","k":"290 K","t":2200,"v":0.262},{"p":"C","k":"290 K","t":2300,"v":0.214},{"p":"C","k":"290 K","t":2400,"v":0.211},{"p":"C","k":"290 K","t":2500,"v":0.178},{"p":"C","k":"290 K","t":2600,"v":0.193},{"p":"C","k":"290 K","t":2700,"v":0.158},{"p":"C","k":"290 K","t":2800,"v":0.172},{"p":"C","k":"290 K","t":2900,"v":0.131},{"p":"C","k":"290 K","t":3000,"v":0.143},{"p":"C","k":"290 K","t":3100,"v":0.101},{"p":"C","k":"290 K","t":3200,"v":0.113},{"p":"C","k":"290 K","t":3300,"v":0.076},{"p":"C","k":"290 K","t":3400,"v":0.094},{"p":"C","k":"290 K","t":3500,"v":0.056},{"p":"C","k":"290 K","t":3600,"v":0.074},{"p":"C","k":"290 K","t":3700,"v":0.045},{"p":"C","k":"290 K","t":3800,"v":0.072},{"p":"C","k":"290 K","t":3900,"v":0.04},{"p":"C","k":"290 K","t":4000,"v":0.07},{"p":"C","k":"290 K","t":4100,"v":0.038},{"p":"C","k":"290 K","t":4200,"v":0.068},{"p":"C","k":"290 K","t":4300,"v":0.036},{"p":"C","k":"290 K","t":4400,"v":0.062},{"p":"C","k":"290 K","t":4500,"v":0.03},{"p":"C","k":"290 K","t":4600,"v":0.055},{"p":"C","k":"290 K","t":4700,"v":0.03}
]},
"hconcat":[
{
"width":386,"height":351,
"layer":[
{"data":{"name":"d"},"transform":[{"filter":"datum.p==='S'"}],
"mark":{"type":"line","strokeWidth":1.7,"clip":true},
"encoding":{
"x":{"field":"t","type":"quantitative","scale":{"domain":[0,4700],"nice":false,"zero":false},"axis":{"orient":"bottom","values":[0,1000,2000,3000,4000],"format":"d","tickSize":5,"labelPadding":3,"title":null}},
"y":{"field":"v","type":"quantitative","scale":{"domain":[0,1.05],"nice":false,"zero":false},"axis":{"orient":"left","values":[0,0.2,0.4,0.6,0.8,1.0],"format":".1f","tickSize":5,"labelPadding":2,"title":"ln (Intensity (a. u.))","titlePadding":24}},
"color":{"field":"k","type":"nominal","scale":{"domain":["10 K","50 K","100 K","150 K","200 K","250 K","275 K","290 K"],"range":["#000000","#ff0000","#00ff00","#0000ff","#00ffff","#ff00ff","#808080","#ff8000"]},
"legend":{"orient":"none","legendX":284,"legendY":45,"title":null,"symbolType":"M-2.5,0H2.5","symbolSize":256,"symbolStrokeWidth":2,"labelOffset":15,"rowPadding":4}}
}},
{"data":{"values":[{"t":390,"v":0.964,"s":"Sr₇H₁₂Cl₂"}]},
"mark":{"type":"text","align":"left","baseline":"middle","fontSize":24,"fontWeight":"bold","font":"Liberation Sans","color":"black"},
"encoding":{
"x":{"field":"t","type":"quantitative","scale":{"domain":[0,4700],"nice":false,"zero":false},"axis":{"orient":"bottom","values":[500,1500,2500,3500,4500],"tickSize":3,"labels":false,"domain":false,"title":null}},
"y":{"field":"v","type":"quantitative","scale":{"domain":[0,1.05],"nice":false,"zero":false},"axis":{"orient":"left","values":[0.1,0.3,0.5,0.7,0.9],"tickSize":3,"labels":false,"domain":false,"title":null}},
"text":{"field":"s"}}},
{"data":{"values":[{"t":4600,"v":0.97,"s":"λₑₓ = 365 nm"}]},
"mark":{"type":"text","align":"right","baseline":"middle","fontSize":25,"fontWeight":"bold","font":"Liberation Sans","color":"black"},
"encoding":{
"x":{"field":"t","type":"quantitative","scale":{"domain":[0,4700],"nice":false,"zero":false},"axis":{"orient":"top","values":[0,1000,2000,3000,4000],"tickSize":-5,"labels":false,"title":null}},
"y":{"field":"v","type":"quantitative","scale":{"domain":[0,1.05],"nice":false,"zero":false},"axis":{"orient":"right","values":[0,0.2,0.4,0.6,0.8,1.0],"tickSize":-5,"labels":false,"title":null}},
"text":{"field":"s"}}},
{"data":{"values":[{"t":-779,"v":-0.17,"s":"a)"}]},
"mark":{"type":"text","align":"center","baseline":"middle","fontSize":28,"fontWeight":"normal","font":"Liberation Sans","color":"black"},
"encoding":{
"x":{"field":"t","type":"quantitative","scale":{"domain":[0,4700],"nice":false,"zero":false},"axis":{"orient":"top","values":[500,1500,2500,3500,4500],"tickSize":-3,"labels":false,"domain":false,"title":null}},
"y":{"field":"v","type":"quantitative","scale":{"domain":[0,1.05],"nice":false,"zero":false},"axis":{"orient":"right","values":[0.1,0.3,0.5,0.7,0.9],"tickSize":-3,"labels":false,"domain":false,"title":null}},
"text":{"field":"s"}}},
{"data":{"values":[{"t":4620,"v":0.0,"s":"//"}]},
"mark":{"type":"text","align":"center","baseline":"middle","fontSize":30,"fontWeight":"bold","font":"Liberation Sans","color":"black","angle":15},
"encoding":{
"x":{"field":"t","type":"quantitative","scale":{"domain":[0,4700],"nice":false,"zero":false},"axis":null},
"y":{"field":"v","type":"quantitative","scale":{"domain":[0,1.05],"nice":false,"zero":false},"axis":null},
"text":{"field":"s"}}}
],
"resolve":{"axis":{"x":"independent","y":"independent"}}
},
{
"width":385,"height":351,
"layer":[
{"data":{"name":"d"},"transform":[{"filter":"datum.p==='C'"}],
"mark":{"type":"line","strokeWidth":1.7,"clip":true},
"encoding":{
"x":{"field":"t","type":"quantitative","scale":{"domain":[0,4700],"nice":false,"zero":false},"axis":{"orient":"bottom","values":[0,1000,2000,3000,4000],"format":"d","tickSize":5,"labelPadding":3,"title":null}},
"y":{"field":"v","type":"quantitative","scale":{"domain":[0,1.05],"nice":false,"zero":false},"axis":{"orient":"left","values":[0,0.2,0.4,0.6,0.8,1.0],"tickSize":-5,"labels":false,"title":null}},
"color":{"field":"k","type":"nominal","scale":{"domain":["20 K","70 K","100 K","125 K","150 K","175 K","200 K","290 K"],"range":["#000000","#ff0000","#00ff00","#0000ff","#00ffff","#ff00ff","#808080","#ff8000"]},
"legend":{"orient":"none","legendX":275,"legendY":40,"title":null,"symbolType":"M-2.5,0H2.5","symbolSize":256,"symbolStrokeWidth":2,"labelOffset":15,"rowPadding":4}}
}},
{"data":{"values":[{"t":402,"v":0.97,"s":"Ca₇H₁₂Cl₂"}]},
"mark":{"type":"text","align":"left","baseline":"middle","fontSize":24,"fontWeight":"bold","font":"Liberation Sans","color":"black"},
"encoding":{
"x":{"field":"t","type":"quantitative","scale":{"domain":[0,4700],"nice":false,"zero":false},"axis":{"orient":"bottom","values":[500,1500,2500,3500,4500],"tickSize":3,"labels":false,"domain":false,"title":null}},
"y":{"field":"v","type":"quantitative","scale":{"domain":[0,1.05],"nice":false,"zero":false},"axis":{"orient":"left","values":[0.1,0.3,0.5,0.7,0.9],"tickSize":-3,"labels":false,"domain":false,"title":null}},
"text":{"field":"s"}}},
{"data":{"values":[{"t":4570,"v":0.985,"s":"λₑₓ = 365 nm"}]},
"mark":{"type":"text","align":"right","baseline":"middle","fontSize":25,"fontWeight":"bold","font":"Liberation Sans","color":"black"},
"encoding":{
"x":{"field":"t","type":"quantitative","scale":{"domain":[0,4700],"nice":false,"zero":false},"axis":{"orient":"top","values":[0,1000,2000,3000,4000],"tickSize":-5,"labels":false,"title":null}},
"y":{"field":"v","type":"quantitative","scale":{"domain":[0,1.05],"nice":false,"zero":false},"axis":{"orient":"right","values":[0,0.2,0.4,0.6,0.8,1.0],"tickSize":-5,"labels":false,"title":null}},
"text":{"field":"s"}}},
{"data":{"values":[{"t":4737,"v":-0.145,"s":"b)"}]},
"mark":{"type":"text","align":"center","baseline":"middle","fontSize":28,"fontWeight":"normal","font":"Liberation Sans","color":"black"},
"encoding":{
"x":{"field":"t","type":"quantitative","scale":{"domain":[0,4700],"nice":false,"zero":false},"axis":{"orient":"top","values":[500,1500,2500,3500,4500],"tickSize":-3,"labels":false,"domain":false,"title":null}},
"y":{"field":"v","type":"quantitative","scale":{"domain":[0,1.05],"nice":false,"zero":false},"axis":{"orient":"right","values":[0.1,0.3,0.5,0.7,0.9],"tickSize":-3,"labels":false,"domain":false,"title":null}},
"text":{"field":"s"}}},
{"data":{"values":[{"t":-159,"v":-0.17,"s":"t (ns)"}]},
"mark":{"type":"text","align":"center","baseline":"middle","fontSize":25,"fontWeight":"bold","font":"Liberation Sans","color":"black"},
"encoding":{
"x":{"field":"t","type":"quantitative","scale":{"domain":[0,4700],"nice":false,"zero":false},"axis":null},
"y":{"field":"v","type":"quantitative","scale":{"domain":[0,1.05],"nice":false,"zero":false},"axis":null},
"text":{"field":"s"}}}
],
"resolve":{"axis":{"x":"independent","y":"independent"}}
}
],
"resolve":{"scale":{"color":"independent"}}
}
